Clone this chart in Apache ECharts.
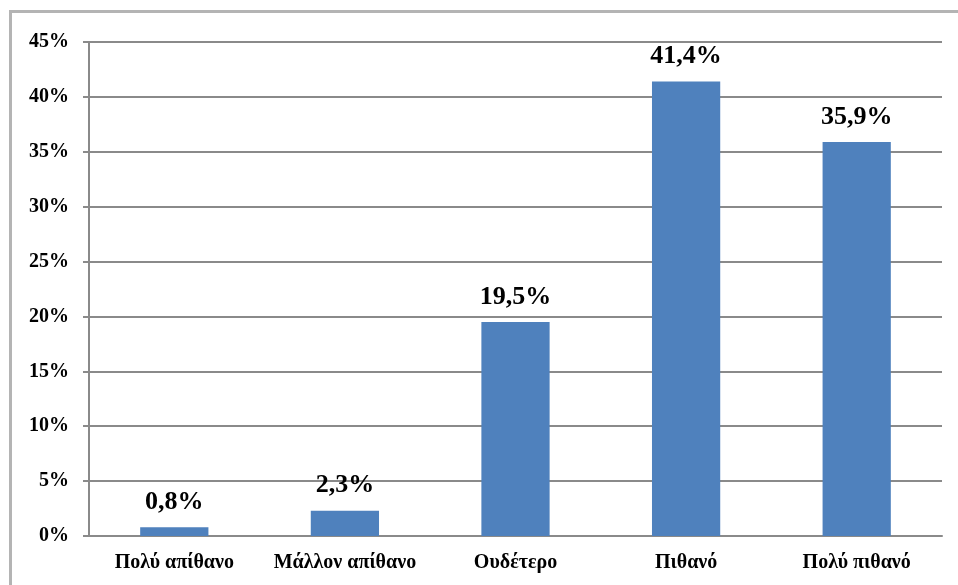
<!DOCTYPE html>
<html>
<head>
<meta charset="utf-8">
<script src="https://cdn.jsdelivr.net/npm/echarts@6/dist/echarts.min.js"></script>
<style>
  html, body { margin: 0; padding: 0; background: #fff; }
  #chart { width: 958px; height: 585px; }
</style>
</head>
<body>
<div id="chart"></div>
<script>
// Survey responses: likelihood scale
const categories = ['Πολύ απίθανο', 'Μάλλον απίθανο', 'Ουδέτερο', 'Πιθανό', 'Πολύ πιθανό'];
const shares = [0.8, 2.3, 19.5, 41.4, 35.9];
const yTicks = { min: 0, max: 45, interval: 5 };

const serif = '"Liberation Serif", "Times New Roman", serif';
const chart = echarts.init(document.getElementById('chart'), null, { renderer: 'canvas' });

chart.setOption({
  backgroundColor: '#ffffff',
  animation: false,
  graphic: [{
    type: 'rect',
    shape: { x: 10.5, y: 11.5, width: 1000, height: 700 },
    style: { fill: 'none', stroke: '#b4b4b4', lineWidth: 3 },
    silent: true
  }],
  grid: { left: 89, right: 16, top: 42, bottom: 49, containLabel: false },
  xAxis: {
    type: 'category',
    data: categories,
    axisLine: { lineStyle: { color: '#8a8a8a', width: 2 } },
    axisTick: { show: false },
    axisLabel: {
      interval: 0,
      margin: 17,
      color: '#000',
      fontFamily: serif,
      fontWeight: 'bold',
      fontSize: 20
    }
  },
  yAxis: {
    type: 'value',
    min: yTicks.min,
    max: yTicks.max,
    interval: yTicks.interval,
    axisLine: { show: true, lineStyle: { color: '#8a8a8a', width: 2 } },
    axisTick: { show: true, length: 6, lineStyle: { color: '#8a8a8a', width: 2 } },
    splitLine: { lineStyle: { color: '#8a8a8a', width: 2 } },
    axisLabel: {
      margin: 20,
      color: '#000',
      fontFamily: serif,
      fontWeight: 'bold',
      fontSize: 20,
      formatter: v => v + '%'
    }
  },
  series: [{
    type: 'bar',
    data: shares,
    barWidth: '40%',
    itemStyle: { color: '#4f81bd' },
    label: {
      show: true,
      position: 'top',
      distance: 12,
      color: '#000',
      fontFamily: serif,
      fontWeight: 'bold',
      fontSize: 26,
      formatter: p => String(p.value).replace('.', ',') + '%'
    }
  }]
});
</script>
</body>
</html>
